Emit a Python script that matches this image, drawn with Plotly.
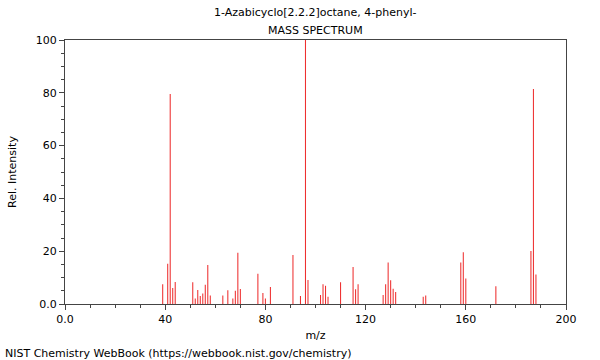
import plotly.graph_objects as go

mz = [39, 41, 42, 43, 44, 51, 52, 53, 54, 55, 56, 57, 58, 63, 65, 67, 68, 69, 70,
      77, 79, 80, 82, 91, 94, 96, 97, 102, 103, 104, 105, 110, 115, 116, 117,
      127, 128, 129, 130, 131, 132, 143, 144, 158, 159, 160, 172, 186, 187, 188]
intensity = [7.5, 15.2, 79.5, 6.1, 8.3, 8.2, 2.1, 5.3, 3.0, 4.0, 7.3, 14.8, 3.2, 3.2, 5.2, 2.1, 5.0, 19.4, 5.7,
             11.5, 4.2, 2.1, 6.4, 18.6, 3.0, 100, 9.1, 3.4, 7.5, 6.9, 2.7, 8.2, 14.0, 5.6, 7.5,
             3.4, 7.5, 15.7, 9.0, 5.8, 4.5, 2.7, 3.2, 15.7, 19.6, 9.7, 6.7, 20.1, 81.4, 11.2]

title_line1 = "1-Azabicyclo[2.2.2]octane, 4-phenyl-"
title_line2 = "MASS SPECTRUM"
x_title = "m/z"
y_title = "Rel. Intensity"
footer = "NIST Chemistry WebBook (https://webbook.nist.gov/chemistry)"
x_tickvals = [0, 40, 80, 120, 160, 200]
x_ticktext = ["0.0", "40", "80", "120", "160", "200"]
y_tickvals = [0, 20, 40, 60, 80, 100]
y_ticktext = ["0.0", "20", "40", "60", "80", "100"]

font = "DejaVu Sans"
fig = go.Figure(go.Bar(x=mz, y=intensity, width=0.42, marker=dict(color="#ee3030", line=dict(width=0)),
                       hoverinfo="skip", showlegend=False))

L, R, T, B = 62, 34, 40, 56
ph = 360 - T - B
pw = 600 - L - R

axis_common = dict(showline=True, linecolor="#444", linewidth=1, mirror=True,
                   ticks="outside", ticklen=5, tickcolor="#444", showgrid=False, zeroline=False,
                   showspikes=False, tickfont=dict(family=font, size=11, color="#000"))
fig.update_layout(
    width=600, height=360,
    margin=dict(l=L, r=R, t=T, b=B),
    paper_bgcolor="white", plot_bgcolor="white",
    hovermode=False,
    font=dict(family=font, size=11, color="#000"),
    xaxis=dict(range=[0, 200], tickvals=x_tickvals, ticktext=x_ticktext,
               minor=dict(dtick=10, tick0=0, ticks="outside", ticklen=3, tickcolor="#444"),
               title=dict(text=x_title, font=dict(family=font, size=11), standoff=6),
               **axis_common),
    yaxis=dict(range=[0, 100], tickvals=y_tickvals, ticktext=y_ticktext,
               minor=dict(dtick=5, tick0=0, ticks="outside", ticklen=3, tickcolor="#444"),
               title=dict(text=y_title, font=dict(family=font, size=11), standoff=16),
               **axis_common),
    annotations=[
        dict(text=title_line1, x=0.5, xref="paper", y=(T + ph - 13) / ph, yref="paper",
             yanchor="middle", showarrow=False, font=dict(family=font, size=11)),
        dict(text=title_line2, x=0.5, xref="paper", y=(T + ph - 30) / ph, yref="paper",
             yanchor="middle", showarrow=False, font=dict(family=font, size=11)),
        dict(text=footer, x=(0 - L) / pw, xref="paper", y=(T + ph - 353) / ph, yref="paper",
             xanchor="left", yanchor="middle", showarrow=False, font=dict(family=font, size=11)),
    ],
)
fig.write_html("out.html", config={"displayModeBar": False, "staticPlot": True},
               post_script="document.body.style.margin='0';document.body.style.padding='0';")
